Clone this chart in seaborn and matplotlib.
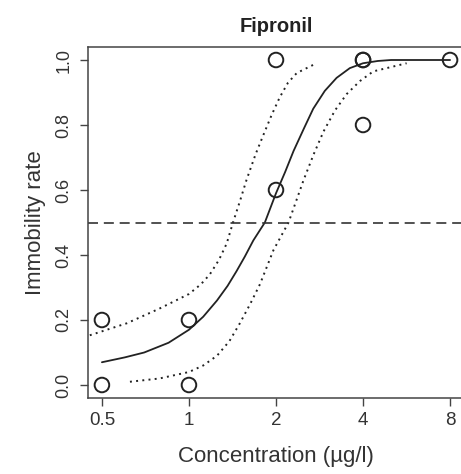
import matplotlib
matplotlib.use("Agg")
import matplotlib.pyplot as plt
import seaborn as sns
import pandas as pd
import numpy as np

# observed data
conc = [0.5, 0.5, 1, 1, 2, 2, 4, 4, 4, 8]
rate = [0.2, 0.0, 0.2, 0.0, 1.0, 0.6, 1.0, 0.8, 1.0, 1.0]

# fitted curve
fit_conc = [0.5, 0.6, 0.7, 0.85, 1.0, 1.12, 1.25, 1.36, 1.46, 1.56, 1.67, 1.83, 2.0, 2.15, 2.3, 2.5, 2.69, 2.95, 3.24, 3.6, 4.0, 4.5, 5.0, 8.0]
fit_rate = [0.07, 0.085, 0.10, 0.13, 0.17, 0.21, 0.26, 0.305, 0.35, 0.395, 0.445, 0.5, 0.59, 0.655, 0.72, 0.79, 0.85, 0.905, 0.945, 0.975, 0.99, 0.997, 1.0, 1.0]

# upper confidence band
up_conc = [0.454, 0.61, 0.79, 1.0, 1.1, 1.18, 1.27, 1.35, 1.42, 1.5, 1.58, 1.7, 1.81, 1.93, 2.06, 2.2, 2.36, 2.69]
up_rate = [0.153, 0.19, 0.235, 0.28, 0.31, 0.34, 0.385, 0.435, 0.5, 0.565, 0.63, 0.71, 0.77, 0.83, 0.885, 0.93, 0.96, 0.985]

# lower confidence band
lo_conc = [0.625, 0.79, 1.0, 1.12, 1.25, 1.38, 1.5, 1.63, 1.76, 1.96, 2.21, 2.49, 2.7, 2.92, 3.2, 3.51, 3.9, 4.34, 5.66]
lo_rate = [0.01, 0.02, 0.04, 0.06, 0.09, 0.135, 0.19, 0.25, 0.31, 0.415, 0.5, 0.63, 0.71, 0.78, 0.845, 0.895, 0.935, 0.965, 0.99]

x_ticks = [0.5, 1, 2, 4, 8]
x_tick_labels = ["0.5", "1", "2", "4", "8"]
y_ticks = [0.0, 0.2, 0.4, 0.6, 0.8, 1.0]
y_tick_labels = ["0.0", "0.2", "0.4", "0.6", "0.8", "1.0"]
threshold = 0.5

sns.set_theme(style="white")
plt.rcParams['font.family'] = ['Liberation Sans', 'DejaVu Sans']

W, H = 461, 474
fig = plt.figure(figsize=(W / 100, H / 100), dpi=100)
ax = fig.add_axes([88 / W, 1 - 398 / H, (464 - 88) / W, (398 - 47) / H])

ink = "#222222"

pts = pd.DataFrame({"conc": conc, "rate": rate})
sns.scatterplot(data=pts, x="conc", y="rate", ax=ax, marker="o", s=110,
                facecolor="none", edgecolor=ink, linewidth=1.4, zorder=5)

sns.lineplot(x=fit_conc, y=fit_rate, ax=ax, estimator=None, sort=False,
             color=ink, linewidth=1.3)
for cx, cy in [(up_conc, up_rate), (lo_conc, lo_rate)]:
    sns.lineplot(x=cx, y=cy, ax=ax, estimator=None, sort=False,
                 color=ink, linewidth=1.4)
    ax.lines[-1].set_dashes((1, 2.2))

ax.axhline(threshold, color="#333333", linewidth=1.2, dashes=(6, 3.5))

ax.set_xscale("log", base=2)
lx = np.log2(0.5) - 0.16
rx = np.log2(8) + 0.16
ax.set_xlim(2 ** lx, 2 ** rx)
ax.set_ylim(-0.04, 1.04)
ax.set_xticks(x_ticks)
ax.set_xticklabels(x_tick_labels)
ax.xaxis.set_minor_locator(matplotlib.ticker.NullLocator())
ax.set_yticks(y_ticks)
ax.set_yticklabels(y_tick_labels, rotation=90, va="center")

ax.tick_params(axis="both", which="major", length=6, width=1, color="#444444",
               labelcolor="#333333", direction="out", bottom=True, left=True)
ax.tick_params(axis="x", labelsize=13.5, pad=4)
ax.tick_params(axis="y", labelsize=13, pad=5)

for sp in ax.spines.values():
    sp.set_visible(True)
    sp.set_color("#444444")
    sp.set_linewidth(1.1)

ax.set_xlabel("Concentration (µg/l)", fontsize=16, color="#333333", labelpad=12)
ax.set_ylabel("Immobility rate", fontsize=16, color="#333333", labelpad=7)
ax.set_title("Fipronil", fontsize=14.5, fontweight="bold", color="#222222", pad=11)

fig.savefig("out.png", dpi=100)
